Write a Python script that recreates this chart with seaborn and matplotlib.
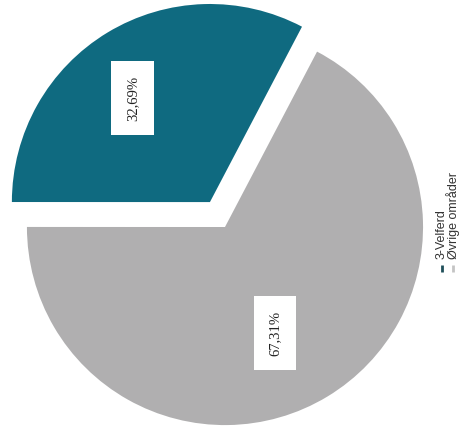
import matplotlib
matplotlib.use("Agg")
import matplotlib.pyplot as plt
import seaborn as sns
import numpy as np
from matplotlib.lines import Line2D

# Share of total by area
categories = ["3-Velferd", "Øvrige områder"]
shares = [32.69, 67.31]
colors = ["#0F6A80", "#B0AFB0"]
legend_colors = ["#1F4F5A", "#C4C4C4"]

sns.set_theme(style="white")
plt.rcParams["font.family"] = ["Liberation Sans", "DejaVu Sans"]
plt.rcParams["font.serif"] = ["Liberation Serif", "DejaVu Serif", "Times New Roman"]

W, H = 468, 434
fig = plt.figure(figsize=(W / 100, H / 100), dpi=100)
fig.patch.set_facecolor("white")
ax = fig.add_axes([0, 0, 1, 1])

wedges, _, autotexts = ax.pie(
    shares,
    colors=colors,
    startangle=62.3,
    explode=[0.147, 0.0],
    radius=1.0,
    autopct=lambda p: f"{p:.2f}%".replace(".", ","),
    pctdistance=0.62,
    wedgeprops=dict(linewidth=0),
)

# value labels: rotated serif text on white boxes
shift = np.array([-0.07, -0.005])
for w, t in zip(wedges, autotexts):
    mid = np.deg2rad((w.theta1 + w.theta2) / 2)
    cx, cy = w.center
    pos = np.array([cx + 0.62 * np.cos(mid), cy + 0.62 * np.sin(mid)]) + shift
    label = t.get_text()
    t.remove()
    ax.text(pos[0], pos[1], label, family="serif", fontsize=10.5, color="#222222",
            rotation=90, ha="center", va="center",
            bbox=dict(boxstyle="square,pad=1.0", facecolor="white", edgecolor="none"))

ax.set_xlim(-1.136, 1.227)
ax.set_ylim(-1.045, 1.146)
ax.set_aspect("auto")
ax.axis("off")

# legend, laid out vertically along the right edge
def fx(px):
    return px / W

def fy(py):
    return 1 - py / H

legend_x = [441.5, 453.0]
for x, label, c in zip(legend_x, categories, legend_colors):
    fig.add_artist(Line2D([fx(x), fx(x)], [fy(265), fy(272)], transform=fig.transFigure,
                          color=c, linewidth=2.0, solid_capstyle="butt"))
    fig.text(fx(x), fy(259), label, rotation=90, ha="center", va="bottom",
             fontsize=9, color="#333333")

fig.savefig("out.png", dpi=100, facecolor="white")
